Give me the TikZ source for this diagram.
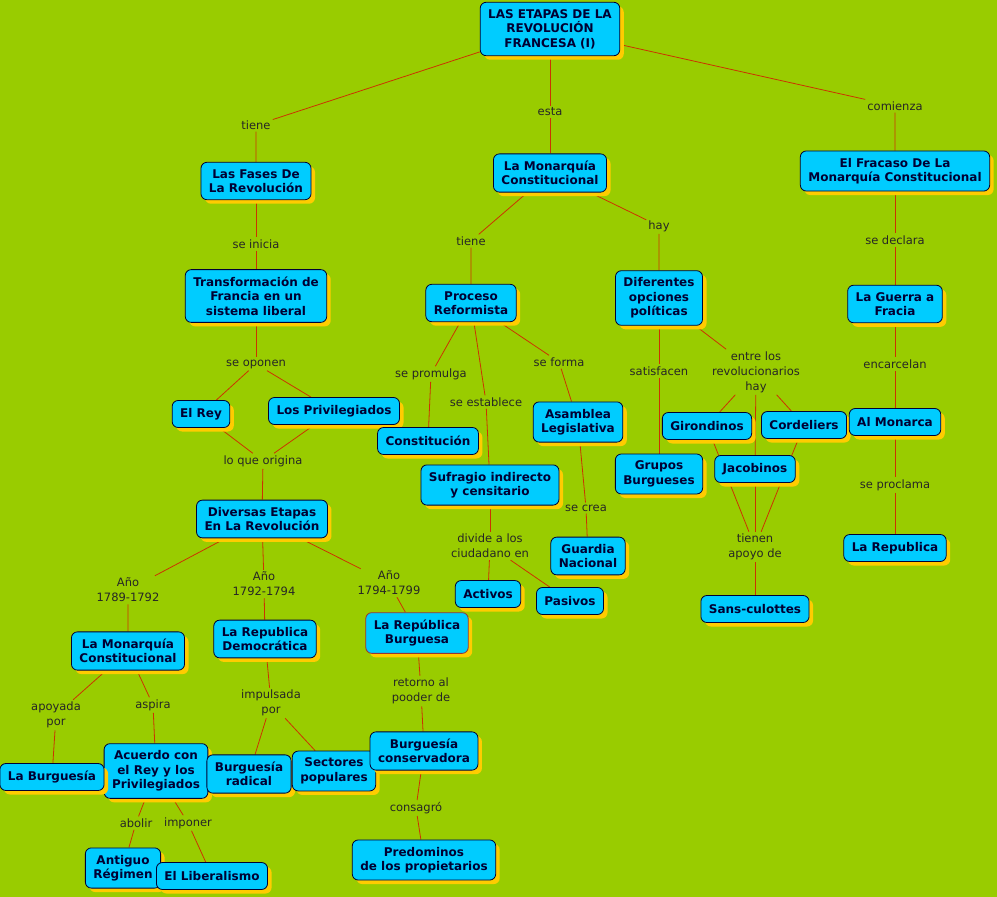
\documentclass[tikz,border=0pt]{standalone}
\usepackage{fontspec}
\setmainfont{DejaVu Sans}
\usepackage{tikz}
\usetikzlibrary{shadows,backgrounds}
\definecolor{mapgreen}{RGB}{153,204,0}
\definecolor{conceptblue}{RGB}{0,204,255}
\definecolor{shadowgold}{RGB}{255,204,0}
\definecolor{textnavy}{RGB}{0,0,51}
\definecolor{linkred}{RGB}{204,51,0}
\definecolor{rustbrown}{RGB}{153,51,51}

\begin{document}
\begin{tikzpicture}[
  x=1pt,y=-1pt,
  concept/.style={rectangle,rounded corners=6pt,draw=textnavy,line width=0.8pt,fill=conceptblue,text=textnavy,
    font=\bfseries\fontsize{12}{14.5}\selectfont,align=center,inner xsep=8pt,inner ysep=7pt,minimum height=27pt,
    drop shadow={shadow xshift=4pt,shadow yshift=-4pt,fill=shadowgold,opacity=1}},
  phrase/.style={font=\fontsize{11.5}{15}\selectfont,text=black!85,align=center,inner sep=2pt},
  link/.style={draw=linkred,line width=0.8pt}
]
\useasboundingbox (0,0) rectangle (997,897);

% concepts
\node[concept] (etapas) at (550,29) {LAS ETAPAS DE LA\\REVOLUCIÓN\\FRANCESA (I)};
\node[concept] (fases) at (256,181) {Las Fases De\\La Revolución};
\node[concept] (montop) at (550,173) {La Monarquía\\Constitucional};
\node[concept] (fracaso) at (895,171) {El Fracaso De La\\Monarquía Constitucional};
\node[concept] (transf) at (256,296) {Transformación de\\Francia en un\\sistema liberal};
\node[concept] (proceso) at (471,303) {Proceso\\Reformista};
\node[concept] (opciones) at (659,298) {Diferentes\\opciones\\políticas};
\node[concept] (guerra) at (895,304) {La Guerra a\\Fracia};
\node[concept] (rey) at (201,414) {El Rey};
\node[concept] (privil) at (334,411) {Los Privilegiados};
\node[concept] (constit) at (428,441) {Constitución};
\node[concept] (asamblea) at (578,422) {Asamblea\\Legislativa};
\node[concept] (girond) at (707,426) {Girondinos};
\node[concept] (cordel) at (804,425) {Cordeliers};
\node[concept] (monarca) at (895,422) {Al Monarca};
\node[concept] (sufragio) at (490,485) {Sufragio indirecto\\y censitario};
\node[concept] (grupos) at (659,474) {Grupos\\Burgueses};
\node[concept] (jacob) at (755,469) {Jacobinos};
\node[concept] (diversas) at (262,519) {Diversas Etapas\\En La Revolución};
\node[concept] (guardia) at (588,556) {Guardia\\Nacional};
\node[concept] (repfin) at (895,548) {La Republica};
\node[concept] (activos) at (488,594) {Activos};
\node[concept] (pasivos) at (570,601) {Pasivos};
\node[concept] (sansc) at (755,609) {Sans-culottes};
\node[concept] (monlow) at (128,651) {La Monarquía\\Constitucional};
\node[concept] (repdem) at (265,639) {La Republica\\Democrática};
\node[concept,draw=rustbrown] (repburg) at (417,633) {La República\\Burguesa};
\node[concept] (acuerdo) at (156,771) {Acuerdo con\\el Rey y los\\Privilegiados};
\node[concept] (burguesia) at (52,777) {La Burguesía};
\node[concept] (radical) at (249,774) {Burguesía\\radical};
\node[concept] (sectores) at (334,771) {Sectores\\populares};
\node[concept] (conserv) at (424,751) {Burguesía\\conservadora};
\node[concept] (antiguo) at (123,868) {Antiguo\\Régimen};
\node[concept] (liberal) at (212,876) {El Liberalismo};
\node[concept] (predom) at (424,860) {Predominos\\de los propietarios};

% linking phrases
\node[phrase] (tiene1) at (256,125) {tiene};
\node[phrase] (esta) at (550,112) {esta};
\node[phrase] (comienza) at (895,106) {comienza};
\node[phrase] (inicia) at (256,244) {se inicia};
\node[phrase] (tiene2) at (471,241) {tiene};
\node[phrase] (hay) at (659,226) {hay};
\node[phrase] (declara) at (895,240) {se declara};
\node[phrase] (oponen) at (256,364) {se oponen};
\node[phrase] (promulga) at (431,374) {se promulga};
\node[phrase] (establece) at (486,402) {se establece};
\node[phrase] (forma) at (559,362) {se forma};
\node[phrase] (satisf) at (659,371) {satisfacen};
\node[phrase] (entre) at (756,372) {entre los\\revolucionarios\\hay};
\node[phrase] (encarcel) at (895,364) {encarcelan};
\node[phrase] (origina) at (263,461) {lo que origina};
\node[phrase] (crea) at (586,508) {se crea};
\node[phrase] (divide) at (490,546) {divide a los\\ciudadano en};
\node[phrase] (apoyo) at (755,547) {tienen\\apoyo de};
\node[phrase] (proclama) at (895,485) {se proclama};
\node[phrase] (anio1) at (128,590) {Año\\1789-1792};
\node[phrase] (anio2) at (264,584) {Año\\1792-1794};
\node[phrase] (anio3) at (389,583) {Año\\1794-1799};
\node[phrase] (apoyada) at (56,715) {apoyada\\por};
\node[phrase] (aspira) at (153,705) {aspira};
\node[phrase] (impulsada) at (271,703) {impulsada\\por};
\node[phrase] (retorno) at (421,691) {retorno al\\pooder de};
\node[phrase] (consagro) at (416,808) {consagró};
\node[phrase] (abolir) at (136,823) {abolir};
\node[phrase] (imponer) at (188,823) {imponer};

% links
\begin{scope}[on background layer]
\fill[mapgreen] (0,0) rectangle (997,897);
\draw[link] (etapas) -- (tiene1) -- (fases);
\draw[link] (etapas) -- (esta) -- (montop);
\draw[link] (etapas) -- (comienza) -- (fracaso);
\draw[link] (fases) -- (inicia) -- (transf);
\draw[link] (transf) -- (oponen);
\draw[link] (oponen) -- (rey);
\draw[link] (oponen) -- (privil);
\draw[link] (rey) -- (origina);
\draw[link] (privil) -- (origina);
\draw[link] (origina) -- (diversas);
\draw[link] (diversas) -- (anio1) -- (monlow);
\draw[link] (diversas) -- (anio2) -- (repdem);
\draw[link] (diversas) -- (anio3) -- (repburg);
\draw[link] (monlow) -- (apoyada) -- (burguesia);
\draw[link] (monlow) -- (aspira) -- (acuerdo);
\draw[link] (acuerdo) -- (abolir) -- (antiguo);
\draw[link] (acuerdo) -- (imponer) -- (liberal);
\draw[link] (repdem) -- (impulsada);
\draw[link] (impulsada) -- (radical);
\draw[link] (impulsada) -- (sectores);
\draw[link] (repburg) -- (retorno) -- (conserv);
\draw[link] (conserv) -- (consagro) -- (predom);
\draw[link] (montop) -- (tiene2) -- (proceso);
\draw[link] (montop) -- (hay) -- (opciones);
\draw[link] (proceso) -- (promulga) -- (constit);
\draw[link] (proceso) -- (establece) -- (sufragio);
\draw[link] (proceso) -- (forma) -- (asamblea);
\draw[link] (sufragio) -- (divide);
\draw[link] (divide) -- (activos);
\draw[link] (divide) -- (pasivos);
\draw[link] (asamblea) -- (crea) -- (guardia);
\draw[link] (opciones) -- (satisf) -- (grupos);
\draw[link] (opciones) -- (entre);
\draw[link] (entre) -- (girond);
\draw[link] (entre) -- (cordel);
\draw[link] (entre) -- (jacob);
\draw[link] (girond) -- (apoyo);
\draw[link] (jacob) -- (apoyo);
\draw[link] (cordel) -- (apoyo);
\draw[link] (apoyo) -- (sansc);
\draw[link] (fracaso) -- (declara) -- (guerra);
\draw[link] (guerra) -- (encarcel) -- (monarca);
\draw[link] (monarca) -- (proclama) -- (repfin);
\end{scope}
\end{tikzpicture}
\end{document}
